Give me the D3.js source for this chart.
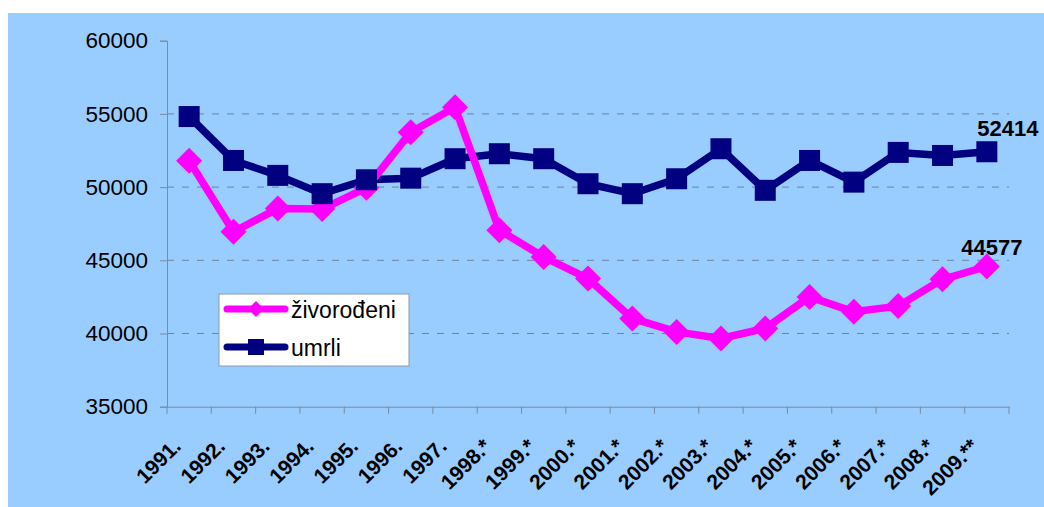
<!doctype html>
<html lang="hr">
<head>
  <meta charset="utf-8">
  <title>živorođeni i umrli 1991-2009</title>
  <style>
    body { margin: 0; background: #fff; }
    svg { display: block; font-family: Arial, "Liberation Sans", sans-serif; }
  </style>
</head>
<body>
  <script src="https://cdn.jsdelivr.net/npm/d3@7/dist/d3.min.js"></script>
  <script>
    var years = ['1991.', '1992.', '1993.', '1994.', '1995.', '1996.', '1997.', '1998.*', '1999.*', '2000.*',
      '2001.*', '2002.*', '2003.*', '2004.*', '2005.*', '2006.*', '2007.*', '2008.*', '2009.**']
    var zivorodeni = [51800, 46950, 48530, 48500, 49950, 53750, 55450, 47050, 45230, 43750,
      41030, 40110, 39660, 40350, 42500, 41480, 41870, 43700, 44577]
    var umrli = [54820, 51820, 50800, 49550, 50500, 50610, 51940, 52280, 51940, 50230,
      49550, 50570, 52620, 49780, 51820, 50340, 52370, 52160, 52414]
    var yTicks = [35000, 40000, 45000, 50000, 55000, 60000]

    var W = 1044, H = 507
    var margin = { left: 167, top: 40.7, right: 35, bottom: 100.3 }
    var width = W - margin.left - margin.right
    var height = H - margin.top - margin.bottom

    var svg = d3.select('body').append('svg')
      .attr('width', W)
      .attr('height', H)

    svg.append('rect')
      .attr('x', 8).attr('y', 13)
      .attr('width', W - 8).attr('height', H - 13)
      .style('fill', '#99ccff')

    var g = svg.append('g')
      .attr('transform', 'translate(' + margin.left + ',' + margin.top + ')')

    var x = d3.scaleBand()
      .domain(years)
      .range([0, width])

    var y = d3.scaleLinear()
      .domain([35000, 60000])
      .range([height, 0])

    function cx(d, i) { return x(years[i]) + x.bandwidth() / 2 }

    // grid
    g.selectAll('.grid')
      .data(yTicks.filter(function(d) { return d > 35000 && d < 60000 }))
      .enter().append('line')
      .attr('class', 'grid')
      .attr('x1', 0).attr('x2', width)
      .attr('y1', function(d) { return y(d) })
      .attr('y2', function(d) { return y(d) })
      .style('stroke', '#71839e')
      .style('stroke-width', 1)
      .style('stroke-dasharray', '7 8')

    // axes
    var yAxis = d3.axisLeft(y).tickValues(yTicks).tickSize(7).tickPadding(12).tickFormat(d3.format('d'))
    var yG = g.append('g').call(yAxis)
    yG.select('.domain').style('stroke', '#7a8aa0')
    yG.selectAll('.tick line').style('stroke', '#7a8aa0')
    yG.selectAll('text').style('font-size', '22.5px').style('fill', '#000')

    var xAxis = d3.axisBottom(x).tickSize(0).tickFormat('')
    var xG = g.append('g').attr('transform', 'translate(0,' + height + ')').call(xAxis)
    xG.select('.domain').style('stroke', '#7a8aa0')
    xG.selectAll('.xtick')
      .data(d3.range(years.length + 1))
      .enter().append('line')
      .attr('class', 'xtick')
      .attr('x1', function(d) { return d * x.step() })
      .attr('x2', function(d) { return d * x.step() })
      .attr('y1', 0).attr('y2', 7)
      .style('stroke', '#7a8aa0')

    xG.selectAll('.xlab')
      .data(years)
      .enter().append('text')
      .attr('class', 'xlab')
      .attr('transform', function(d) {
        return 'translate(' + (x(d) + x.bandwidth() / 2 - 7) + ',41) rotate(-45)'
      })
      .attr('text-anchor', 'end')
      .style('font-size', '21px')
      .style('font-weight', 'bold')
      .style('fill', '#000')
      .text(function(d) { return d })

    // lines
    var line = d3.line()
      .x(cx)
      .y(function(d) { return y(d) })

    g.append('path').datum(umrli)
      .attr('d', line)
      .style('fill', 'none').style('stroke', '#000080').style('stroke-width', 7.5)
      .style('stroke-linejoin', 'round')

    g.append('path').datum(zivorodeni)
      .attr('d', line)
      .style('fill', 'none').style('stroke', '#ff00ff').style('stroke-width', 7.5)
      .style('stroke-linejoin', 'round')

    var diamond = 'M0,-13L13,0L0,13L-13,0Z'

    g.selectAll('.dia')
      .data(zivorodeni)
      .enter().append('path')
      .attr('class', 'dia')
      .attr('d', diamond)
      .attr('transform', function(d, i) { return 'translate(' + cx(d, i) + ',' + y(d) + ')' })
      .style('fill', '#ff00ff')

    g.selectAll('.sq')
      .data(umrli)
      .enter().append('rect')
      .attr('class', 'sq')
      .attr('x', function(d, i) { return cx(d, i) - 10.5 })
      .attr('y', function(d) { return y(d) - 10.5 })
      .attr('width', 21).attr('height', 21)
      .style('fill', '#000080')

    // end labels
    var last = years.length - 1
    g.append('text')
      .attr('x', cx(umrli[last], last) + 21)
      .attr('y', y(umrli[last]) - 16)
      .attr('text-anchor', 'middle')
      .style('font-size', '22px').style('font-weight', 'bold')
      .text(umrli[last])

    g.append('text')
      .attr('x', cx(zivorodeni[last], last) + 5)
      .attr('y', y(zivorodeni[last]) - 11)
      .attr('text-anchor', 'middle')
      .style('font-size', '22px').style('font-weight', 'bold')
      .text(zivorodeni[last])

    // legend
    var legend = svg.append('g').attr('transform', 'translate(219,294)')
    legend.append('rect')
      .attr('width', 190).attr('height', 72)
      .style('fill', '#fff').style('stroke', '#8a9ab0').style('stroke-width', 1)

    var legendItems = [
      { name: 'živorođeni', color: '#ff00ff', shape: 'diamond' },
      { name: 'umrli', color: '#000080', shape: 'square' }
    ]
    var item = legend.selectAll('.item')
      .data(legendItems)
      .enter().append('g')
      .attr('class', 'item')
      .attr('transform', function(d, i) { return 'translate(0,' + (15 + i * 38) + ')' })

    item.append('line')
      .attr('x1', 8).attr('x2', 66)
      .style('stroke', function(d) { return d.color })
      .style('stroke-width', 7)
      .style('stroke-linecap', 'round')
    item.append('path')
      .attr('d', function(d) {
        return d.shape === 'diamond' ? 'M37,-8L45,0L37,8L29,0Z' : 'M29,-8h16v16h-16Z'
      })
      .style('fill', function(d) { return d.color })
    item.append('text')
      .attr('x', 72).attr('y', 9)
      .style('font-size', '23px')
      .text(function(d) { return d.name })
  </script>
</body>
</html>
